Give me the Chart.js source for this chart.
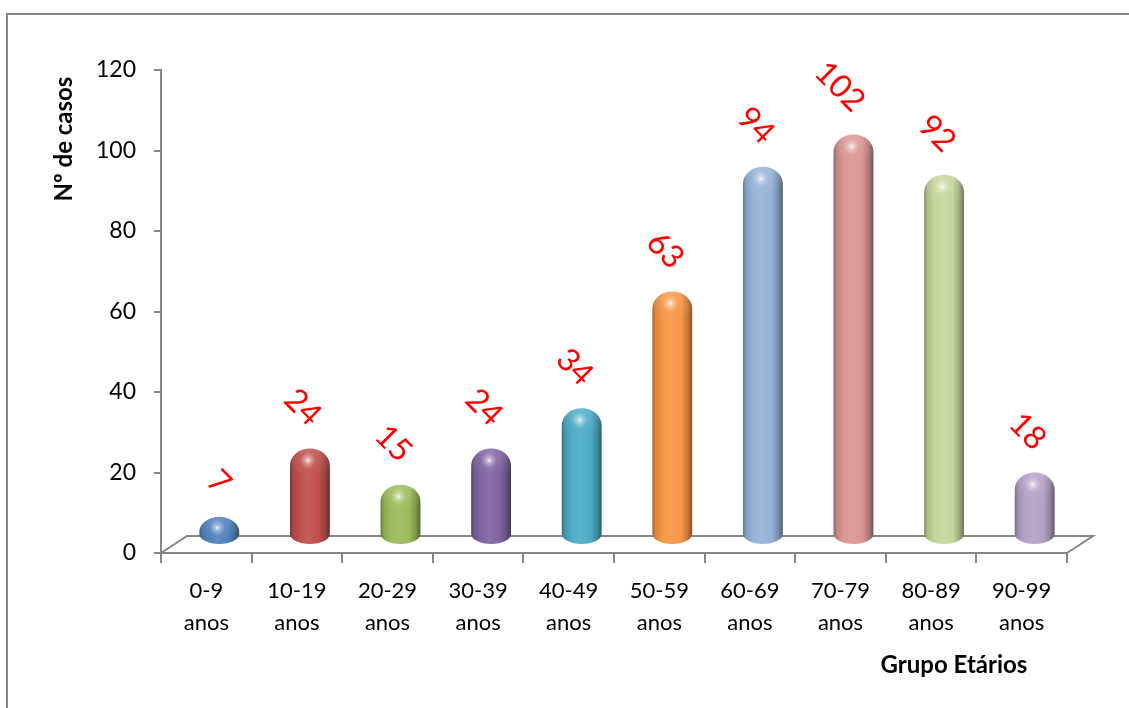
<!DOCTYPE html>
<html>
<head>
<meta charset="utf-8">
<title>Nº de casos por grupo etário</title>
<script src="https://cdn.jsdelivr.net/npm/chart.js@4.4.1/dist/chart.umd.min.js"></script>
<style>
  html, body { margin: 0; padding: 0; background: #ffffff; }
  canvas { display: block; }
</style>
</head>
<body>
<canvas id="grafico" width="1129" height="708"></canvas>
<script>
// Age groups (two-line labels) and number of cases per group
const categories = [
  ["0-9", "anos"], ["10-19", "anos"], ["20-29", "anos"], ["30-39", "anos"], ["40-49", "anos"],
  ["50-59", "anos"], ["60-69", "anos"], ["70-79", "anos"], ["80-89", "anos"], ["90-99", "anos"]
];
const casos = [7, 24, 15, 24, 34, 63, 94, 102, 92, 18];
const barColors = [
  "#4F81BD", "#C0504D", "#9BBB59", "#8064A2", "#4BACC6",
  "#F79646", "#95B3D7", "#D99694", "#C3D69B", "#B3A2C7"
];
const yMin = 0, yMax = 120, yStep = 20;
const yTitle = "Nº de casos";
const xTitle = "Grupo Etários";

const FONT = "Lato, 'Open Sans', sans-serif";
const AXIS_GREY = "#868686";

// Perspective of the 3D floor and where the cylinders stand on it
const FLOOR_DX = 26, FLOOR_DY = 17;
const DEPTH_X = 13, DEPTH_Y = 8;

function hexToRgb(h) {
  const n = parseInt(h.slice(1), 16);
  return [(n >> 16) & 255, (n >> 8) & 255, n & 255];
}
function mix(hex, target, t) {
  const c = hexToRgb(hex);
  const m = c.map((v, i) => Math.round(v + (target[i] - v) * t));
  return `rgb(${m[0]},${m[1]},${m[2]})`;
}
const darker = (hex, t) => mix(hex, [0, 0, 0], t);
const lighter = (hex, t) => mix(hex, [255, 255, 255], t);

const cylinderPlugin = {
  id: "cylinders",
  beforeDraw(chart) {
    const ctx = chart.ctx;
    ctx.save();
    ctx.strokeStyle = AXIS_GREY;
    ctx.lineWidth = 2;
    ctx.strokeRect(7, 14, chart.width + 40, chart.height + 40);
    ctx.restore();
  },
  beforeDatasetsDraw(chart) {
    const ctx = chart.ctx;
    const { left, right } = chart.chartArea;
    const y0 = chart.scales.y.getPixelForValue(0);
    ctx.save();
    ctx.strokeStyle = AXIS_GREY;
    ctx.lineWidth = 2;
    ctx.beginPath();
    ctx.moveTo(left, y0);
    ctx.lineTo(left + FLOOR_DX, y0 - FLOOR_DY);
    ctx.lineTo(right + FLOOR_DX, y0 - FLOOR_DY);
    ctx.lineTo(right, y0);
    ctx.stroke();
    ctx.restore();
  },
  afterDatasetsDraw(chart) {
    const ctx = chart.ctx;
    const meta = chart.getDatasetMeta(0);
    ctx.save();
    meta.data.forEach((el, i) => {
      const base = barColors[i];
      const cx = el.x + DEPTH_X;
      const w = el.width;
      const rx = w / 2;
      const top = el.y - DEPTH_Y;
      const bottom = el.base - DEPTH_Y;
      const h = bottom - top;
      const ryT = Math.min(17, h * 0.55);
      const ryB = Math.min(10, h - ryT);

      // body of the cylinder with a rounded top and bottom
      ctx.beginPath();
      ctx.moveTo(cx - rx, bottom - ryB);
      ctx.lineTo(cx - rx, top + ryT);
      ctx.ellipse(cx, top + ryT, rx, ryT, 0, Math.PI, 2 * Math.PI);
      ctx.lineTo(cx + rx, bottom - ryB);
      ctx.ellipse(cx, bottom - ryB, rx, ryB, 0, 0, Math.PI);
      ctx.closePath();

      const g = ctx.createLinearGradient(cx - rx, 0, cx + rx, 0);
      g.addColorStop(0, darker(base, 0.35));
      g.addColorStop(0.08, darker(base, 0.12));
      g.addColorStop(0.25, base);
      g.addColorStop(0.45, lighter(base, 0.08));
      g.addColorStop(0.72, base);
      g.addColorStop(0.88, darker(base, 0.2));
      g.addColorStop(1, darker(base, 0.45));
      ctx.fillStyle = g;
      ctx.fill();

      // soft shading on the rounded top
      const capG = ctx.createLinearGradient(0, top, 0, top + ryT * 1.6);
      capG.addColorStop(0, "rgba(255,255,255,0.12)");
      capG.addColorStop(1, "rgba(255,255,255,0)");
      ctx.fillStyle = capG;
      ctx.fill();

      // specular highlight near the top
      const hx = cx - 2, hy = top + Math.min(12, h * 0.4);
      const rg = ctx.createRadialGradient(hx, hy, 0, hx, hy, 8);
      rg.addColorStop(0, "rgba(255,255,255,0.85)");
      rg.addColorStop(0.4, "rgba(255,255,255,0.35)");
      rg.addColorStop(1, "rgba(255,255,255,0)");
      ctx.fillStyle = rg;
      ctx.beginPath();
      ctx.arc(hx, hy, 8, 0, 2 * Math.PI);
      ctx.fill();

      // value label, tilted, its end anchored just above the cylinder
      ctx.save();
      ctx.translate(cx + 6, top - 28);
      ctx.rotate(Math.PI / 4);
      ctx.fillStyle = "#FF0000";
      ctx.font = `32px ${FONT}`;
      ctx.textAlign = "right";
      ctx.textBaseline = "middle";
      ctx.fillText(String(casos[i]), 0, 0);
      ctx.restore();
    });

    // axis titles
    ctx.fillStyle = "#000000";
    ctx.font = `bold 24px ${FONT}`;
    ctx.textAlign = "center";
    ctx.textBaseline = "middle";
    ctx.save();
    ctx.translate(64, 139);
    ctx.rotate(-Math.PI / 2);
    ctx.fillText(yTitle, 0, 0);
    ctx.restore();
    ctx.fillText(xTitle, 954, 665);
    ctx.restore();
  }
};

new Chart(document.getElementById("grafico"), {
  type: "bar",
  data: {
    labels: categories,
    datasets: [{
      label: yTitle,
      data: casos,
      backgroundColor: "rgba(0,0,0,0)",
      borderWidth: 0,
      categoryPercentage: 1,
      barPercentage: 0.44
    }]
  },
  options: {
    responsive: false,
    devicePixelRatio: 1,
    animation: false,
    layout: { padding: { top: 70, right: 62, bottom: 0, left: 0 } },
    plugins: { legend: { display: false }, tooltip: { enabled: false } },
    scales: {
      x: {
        grid: { display: true, drawOnChartArea: false, drawTicks: true, tickLength: 10, color: AXIS_GREY, lineWidth: 2, offset: true },
        border: { display: true, color: AXIS_GREY, width: 2 },
        ticks: { color: "#000000", font: { family: FONT, size: 22, lineHeight: 1.45 }, padding: 12, maxRotation: 0, autoSkip: false },
        afterFit(scale) { scale.height = 155; }
      },
      y: {
        min: yMin,
        max: yMax,
        grid: { display: true, drawOnChartArea: false, drawTicks: true, tickLength: 7, color: AXIS_GREY, lineWidth: 2 },
        border: { display: true, color: AXIS_GREY, width: 2 },
        ticks: { stepSize: yStep, color: "#000000", font: { family: FONT, size: 23 }, padding: 18 },
        afterFit(scale) { scale.width = 161; }
      }
    }
  },
  plugins: [cylinderPlugin]
});
</script>
</body>
</html>
